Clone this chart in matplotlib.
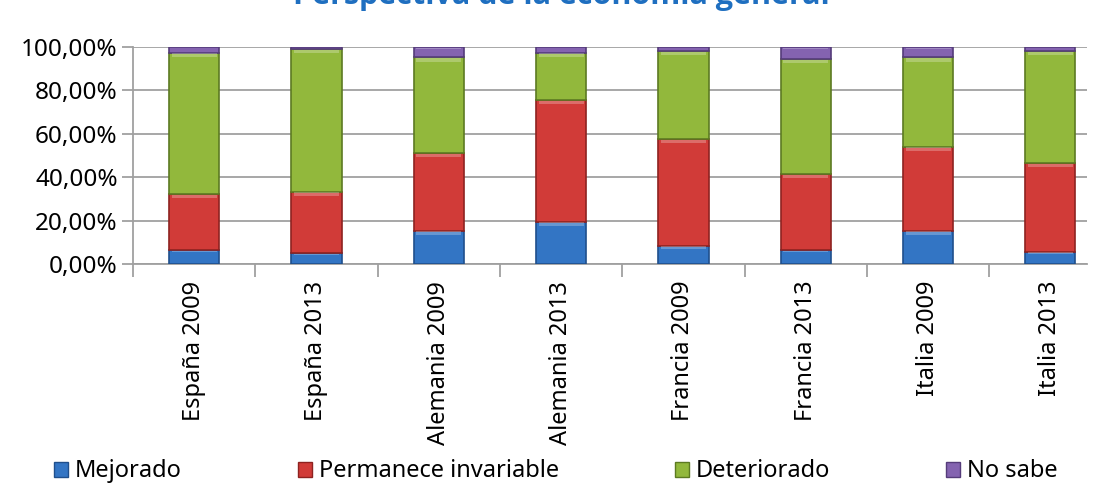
import matplotlib
matplotlib.use("Agg")
import matplotlib.pyplot as plt
from matplotlib.ticker import FuncFormatter
from matplotlib.patches import Patch
import numpy as np

categories = ["España 2009", "España 2013", "Alemania 2009", "Alemania 2013",
              "Francia 2009", "Francia 2013", "Italia 2009", "Italia 2013"]
mejorado = [6.5, 4.9, 15.4, 19.5, 8.4, 6.5, 15.4, 5.7]
permanece = [25.8, 28.4, 35.6, 56.1, 49.2, 35.0, 38.7, 40.7]
deteriorado = [65.1, 65.6, 44.2, 21.8, 40.6, 53.0, 41.1, 51.8]
no_sabe = [2.6, 1.1, 4.8, 2.6, 1.8, 5.5, 4.8, 1.8]

series = [
    ("Mejorado", mejorado, "#3375c4", "#1f4f8c"),
    ("Permanece invariable", permanece, "#d13b38", "#8e2220"),
    ("Deteriorado", deteriorado, "#92b83c", "#5c7a22"),
    ("No sabe", no_sabe, "#8463b0", "#553c7a"),
]

plt.rcParams['font.family'] = ['Noto Sans', 'DejaVu Sans']

fig = plt.figure(figsize=(11.12, 4.92), dpi=100)
ax = fig.add_axes([0.1196, 0.4634, 0.858, 0.4411])

x = np.arange(len(categories))
width = 0.41
bottom = np.zeros(len(categories))
for name, vals, color, edge in series:
    vals = np.array(vals)
    ax.bar(x, vals, width, bottom=bottom, color=color, edgecolor=edge,
           linewidth=1.2, zorder=3)
    # light bevel strip at top of each segment
    strip = np.minimum(vals * 0.12, 1.6)
    ax.bar(x, strip, width * 0.9, bottom=bottom + vals - strip - 0.3,
           color="white", alpha=0.25, linewidth=0, zorder=4)
    bottom += vals

ax.set_ylim(0, 100)
ax.set_xlim(-0.5, 7.3)
ax.set_yticks(np.arange(0, 101, 20))
ax.yaxis.set_major_formatter(FuncFormatter(lambda v, p: f"{v:.2f}%".replace(".", ",")))
ax.grid(axis="y", color="#a0a0a0", linewidth=1.3, zorder=0)

ax.set_xticks(x)
ax.set_xticklabels(categories, rotation=90)
ax.set_xticks(np.arange(-0.5, 7.5, 1), minor=True)
ax.tick_params(axis="x", which="major", length=0, pad=12, labelsize=17)
ax.tick_params(axis="x", which="minor", length=9, color="#a0a0a0", width=1.3)
ax.tick_params(axis="y", length=8, color="#a0a0a0", width=1.3, labelsize=17.5, pad=3)

for s in ["top", "right"]:
    ax.spines[s].set_visible(False)
for s in ["left", "bottom"]:
    ax.spines[s].set_color("#a0a0a0")
    ax.spines[s].set_linewidth(1.3)

fig.text(0.505, 1 - 4 / 492, "Perspectiva de la economía general", ha="center",
         va="baseline", fontsize=22, fontweight="bold", color="#1f6fc0",
         family=["Open Sans", "DejaVu Sans"])

handles = [Patch(facecolor=c, edgecolor=e, label=n) for n, _, c, e in series]
fig.legend(handles=handles, loc="center", bbox_to_anchor=(0.5, 0.042), ncol=4,
           frameon=False, fontsize=17, handlelength=0.6, handleheight=0.6,
           handletextpad=0.3, columnspacing=4.9)

fig.savefig("out.png", dpi=100)
